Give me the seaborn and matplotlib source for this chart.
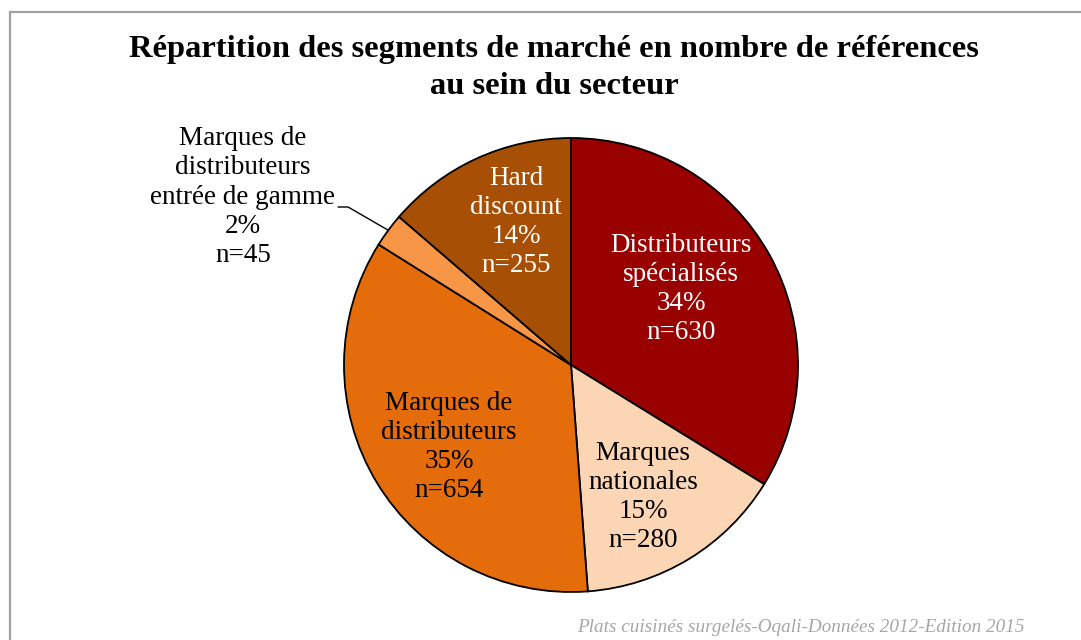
import seaborn as sns
import numpy as np
import matplotlib.pyplot as plt
from matplotlib.lines import Line2D

# Data
segments = ['Distributeurs\nspécialisés', 'Marques\nnationales', 'Marques de\ndistributeurs',
            'Marques de\ndistributeurs\nentrée de gamme', 'Hard\ndiscount']
counts = [630, 280, 654, 45, 255]
colors = ['#990000', '#FCD5B5', '#E46C0A', '#F79646', '#A64F05']
text_colors = ['white', 'black', 'black', 'black', 'white']
# label spots in pie units (radius = 1)
label_pos = [(0.485, 0.335), (0.317, -0.581), (-0.537, -0.361), (-1.445, 0.74), (-0.242, 0.63)]

title = 'Répartition des segments de marché en nombre de références\nau sein du secteur'
source = 'Plats cuisinés surgelés-Oqali-Données 2012-Edition 2015'

sns.set_theme(style='white')
plt.rcParams['font.family'] = ['Liberation Serif', 'DejaVu Serif']

W, H = 1081, 640
fig = plt.figure(figsize=(W / 100, H / 100), dpi=100)
fig.patch.set_facecolor('white')

# grey frame (only left and top edges are visible)
fig.add_artist(Line2D([10 / W, 10 / W], [0, 1 - 12 / H], color='#A0A0A0', lw=1.6))
fig.add_artist(Line2D([10 / W, 1], [1 - 12 / H, 1 - 12 / H], color='#A0A0A0', lw=1.6))

cx, cy, r = 571, 365, 227
ax = fig.add_axes([(cx - r) / W, (H - cy - r) / H, 2 * r / W, 2 * r / H])
wedges, _ = ax.pie(counts, colors=colors, startangle=90, counterclock=False,
                   wedgeprops=dict(edgecolor='black', linewidth=1.3))
ax.set_xlim(-1, 1)
ax.set_ylim(-1, 1)
ax.set_aspect('equal')
ax.axis('off')

total = sum(counts)
for i, (seg, n) in enumerate(zip(segments, counts)):
    pct = round(100 * n / total)
    txt = f'{seg}\n{pct}%\nn={n}'
    x, y = label_pos[i]
    ax.text(x, y, txt, ha='center', va='center', fontsize=19.5, color=text_colors[i],
            linespacing=1.22, clip_on=False)

# leader line for the small wedge
w = wedges[3]
mid = np.deg2rad((w.theta1 + w.theta2) / 2)
ex, ey = np.cos(mid), np.sin(mid)
ax.plot([-1.026, -0.982, ex], [0.696, 0.696, ey], color='black', lw=1, clip_on=False)

fig.text(554 / W, 1 - 68 / H, title, ha='center', va='center', fontsize=23.4,
         fontweight='bold', linespacing=1.33, color='black')
fig.text(1025 / W, 1 - 628 / H, source, ha='right', va='center', fontsize=13.8,
         style='italic', color='#A6A6A6')

fig.savefig('out.png', dpi=100)
